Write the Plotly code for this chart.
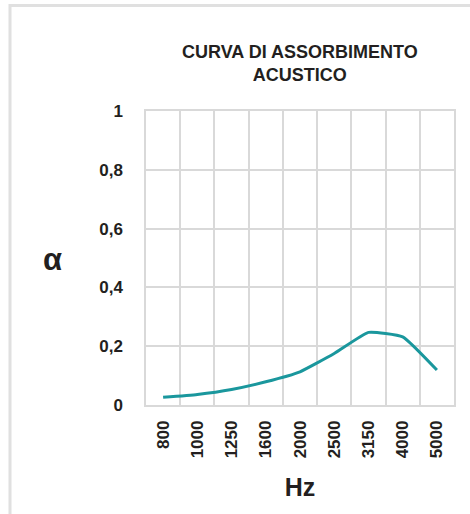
import plotly.graph_objects as go

freqs = ["800", "1000", "1250", "1600", "2000", "2500", "3150", "4000", "5000"]
alpha = [0.026, 0.036, 0.053, 0.079, 0.113, 0.175, 0.247, 0.232, 0.119]
yticks = [0, 0.2, 0.4, 0.6, 0.8, 1]
ytext = ["0", "0,2", "0,4", "0,6", "0,8", "1"]

W, H = 470, 514
L, R, T, B = 146, 16, 111, 109
pw, ph = W - L - R, H - T - B

def px(x):
    return (x - L) / pw

def py(y):
    return (H - B - y) / ph

FONT = "Liberation Sans, Arial, sans-serif"
DARK = "#231f20"

fig = go.Figure()
fig.add_trace(go.Scatter(
    x=freqs, y=alpha, mode="lines",
    line=dict(color="#1a979d", width=3, shape="spline", smoothing=0.4),
    hoverinfo="skip", showlegend=False,
))

fig.update_layout(
    width=W, height=H,
    margin=dict(l=L, r=R, t=T, b=B),
    paper_bgcolor="white", plot_bgcolor="white",
    font=dict(family=FONT, color=DARK),
    xaxis=dict(
        type="category", range=[-0.5, 8.5], tickson="boundaries",
        showgrid=True, gridcolor="#d9d9d9", gridwidth=1.5,
        showline=True, mirror=True, linecolor="#d9d9d9", linewidth=1.5,
        ticks="", tickangle=-90, ticklabelstandoff=7,
        tickfont=dict(size=17, family=FONT, color=DARK, weight="bold"),
        title=dict(text="<b>Hz</b>", font=dict(size=25, color=DARK), standoff=21),
        zeroline=False, fixedrange=True,
    ),
    yaxis=dict(
        range=[0, 1], tickvals=yticks, ticktext=ytext,
        showgrid=True, gridcolor="#d9d9d9", gridwidth=1.5,
        showline=True, mirror=True, linecolor="#d9d9d9", linewidth=1.5,
        ticks="", ticklabelstandoff=18,
        tickfont=dict(size=17, family=FONT, color=DARK, weight="bold"),
        zeroline=False, fixedrange=True,
    ),
    annotations=[
        dict(text="<b>CURVA DI ASSORBIMENTO<br>ACUSTICO</b>", xref="paper", yref="paper",
             x=0.5, y=py(63), xanchor="center", yanchor="middle", showarrow=False,
             font=dict(size=18, color=DARK, family=FONT)),
        dict(text="<b>α</b>", xref="paper", yref="paper",
             x=px(52), y=py(259), xanchor="center", yanchor="middle", showarrow=False,
             font=dict(size=31, color=DARK, family=FONT)),
    ],
    shapes=[
        dict(type="line", xref="paper", yref="paper", x0=px(10), x1=px(475),
             y0=py(5.5), y1=py(5.5), line=dict(color="#e0e0e0", width=3), layer="below"),
        dict(type="line", xref="paper", yref="paper", x0=px(10), x1=px(10),
             y0=py(4), y1=py(520), line=dict(color="#e0e0e0", width=3), layer="below"),
    ],
)

fig.write_html("out.html", config={"displayModeBar": False},
               post_script="document.body.style.margin='0';")
